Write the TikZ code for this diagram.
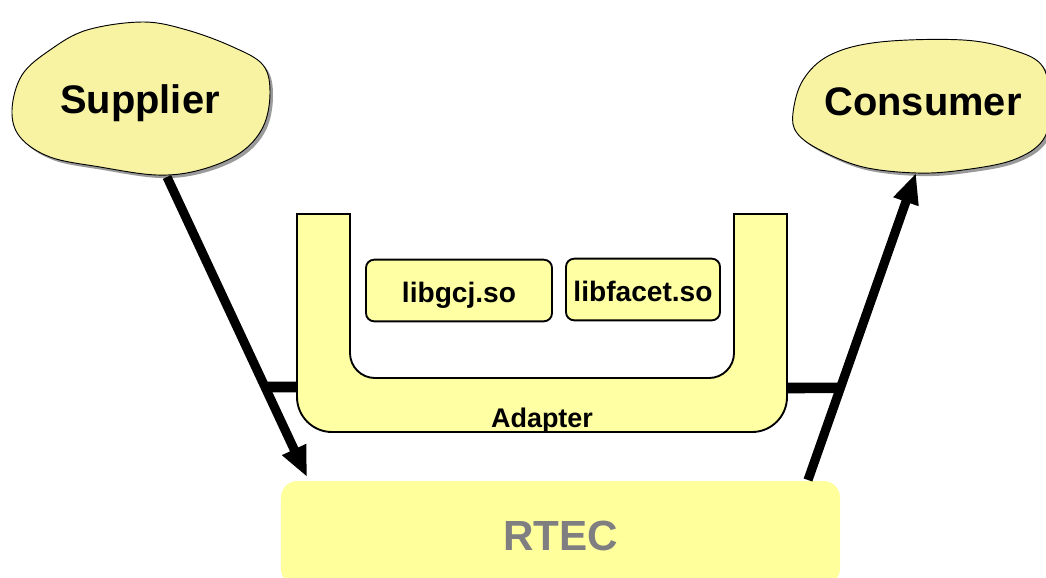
\documentclass[tikz,border=0pt]{standalone}
\usepackage{fontspec}
\setmainfont{Liberation Sans}
\usetikzlibrary{arrows.meta,calc}

\definecolor{blobyellow}{HTML}{F8F3A2}
\definecolor{adapteryellow}{HTML}{FFFFA4}
\definecolor{rtecyellow}{HTML}{FFFF9C}
\definecolor{rtecgray}{HTML}{7F7F82}
\definecolor{blobshadow}{HTML}{9A9A9A}

\tikzset{
  blob/.style={fill=blobyellow, draw=black, line width=0.8pt},
  blobshade/.style={fill=blobshadow},
  bigtext/.style={font=\fontsize{34}{40}\selectfont\bfseries, anchor=base, inner sep=0pt},
  libbox/.style={draw=black, line width=1.6pt, fill=adapteryellow, rounded corners=7pt,
    inner sep=0pt, minimum height=1.85cm, text height=22.5pt, text depth=2pt,
    font=\fontsize{24}{28}\selectfont\bfseries},
  shell/.style={draw=black, line width=1.6pt, fill=adapteryellow},
  flow/.style={line width=7.8pt, -{Triangle[length=26pt,width=21pt]}},
  bar/.style={line width=9pt},
}

\begin{document}
\begin{tikzpicture}[x=0.03cm, y=-0.03cm]
\useasboundingbox (0,0) rectangle (1046,577);

% RTEC event channel
\node[fill=rtecyellow, rounded corners=14pt, minimum width=16.77cm, minimum height=3.12cm,
      inner sep=0pt, text height=30pt, text depth=1pt, text=rtecgray,
      font=\fontsize{36}{42}\selectfont\bfseries] (rtec) at (560.5,533) {RTEC};

% Supplier cloud
\path[blobshade, shift={(3,3)}] plot[smooth cycle, tension=0.6] coordinates {
  (12,110) (22,75) (50,50) (87,30) (143,22) (187,30) (233,47) (263,65)
  (270,93) (263,127) (240,153) (200,170) (157,175) (100,167) (50,157) (20,137)};
\path[blob] plot[smooth cycle, tension=0.6] coordinates {
  (12,110) (22,75) (50,50) (87,30) (143,22) (187,30) (233,47) (263,65)
  (270,93) (263,127) (240,153) (200,170) (157,175) (100,167) (50,157) (20,137)};
\node[bigtext] (supplier) at (140,113) {Supplier};

% Consumer cloud
\path[blobshade, shift={(3,3)}] plot[smooth cycle, tension=0.6] coordinates {
  (793,113) (803,80) (830,55) (880,42) (963,40) (1013,50) (1043,67) (1050,107)
  (1043,140) (1013,160) (963,170) (917,173) (863,167) (820,150) (797,133)};
\path[blob] plot[smooth cycle, tension=0.6] coordinates {
  (793,113) (803,80) (830,55) (880,42) (963,40) (1013,50) (1043,67) (1050,107)
  (1043,140) (1013,160) (963,170) (917,173) (863,167) (820,150) (797,133)};
\node[bigtext] (consumer) at (923,115) {Consumer};

% Adapter: U-shaped shell
\path[shell] (297,214) -- (297,397)
  .. controls (297,416.3) and (312.7,432) .. (332,432) -- (752,432)
  .. controls (771.3,432) and (787,416.3) .. (787,397) -- (787,214) -- (734,214) -- (734,353)
  .. controls (734,366.8) and (722.8,378) .. (709,378) -- (375,378)
  .. controls (361.2,378) and (350,366.8) .. (350,353) -- (350,214) -- cycle;
\node[font=\fontsize{23}{27}\selectfont\bfseries, anchor=base, inner sep=0pt] (adapter) at (542,427) {Adapter};

% Shared libraries inside the adapter
\node[libbox, minimum width=5.58cm] (libgcj) at (459,290.5) {libgcj.so};
\node[libbox, minimum width=4.62cm] (libfacet) at (643,289.5) {libfacet.so};

% Connection points
\coordinate (supOut) at (167,177);
\coordinate (rtecIn) at (307,477);
\coordinate (rtecOut) at (808,480);
\coordinate (conIn) at (916,173);
\coordinate (adL) at (297,387);
\coordinate (adR) at (787,388);
\coordinate (tapL) at ($(supOut)!0.7!(rtecIn)$);
\coordinate (tapR) at ($(rtecOut)!0.3!(conIn)$);

% Event flow
\draw[flow] (supOut) -- (rtecIn);
\draw[flow] (rtecOut) -- (conIn);

% Adapter hooked onto both flows
\draw[bar] (adL) -- (tapL);
\draw[bar] (adR) -- (tapR);
\end{tikzpicture}
\end{document}
